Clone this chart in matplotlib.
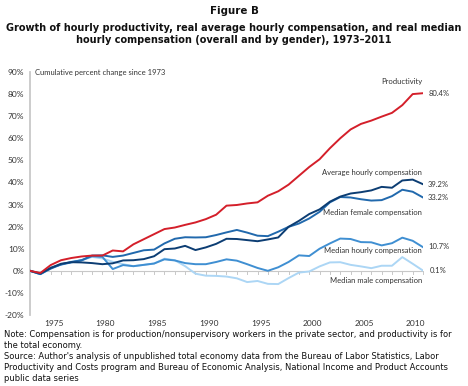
import numpy as np
import matplotlib
matplotlib.use("Agg")
import matplotlib.pyplot as plt
import matplotlib.transforms as mtrans

years = np.arange(1973, 2012)

productivity = [0, -1.0, 2.6, 4.8, 5.8, 6.5, 6.9, 6.9, 9.2, 8.8, 12.0, 14.3, 16.6, 18.9, 19.6, 20.8,
                21.9, 23.4, 25.4, 29.5, 29.8, 30.5, 31.0, 34.0, 36.0, 39.0, 43.0, 47.0, 50.5, 55.5,
                60.0, 64.0, 66.5, 68.0, 69.8, 71.5, 75.0, 80.0, 80.4]
avg_hourly = [0, -1.2, 1.3, 3.2, 3.9, 3.8, 3.5, 3.0, 3.4, 4.7, 4.8, 5.3, 6.6, 9.8, 10.1, 11.3,
              9.4, 10.6, 12.2, 14.5, 14.4, 13.9, 13.4, 14.2, 15.1, 19.9, 22.6, 25.7, 27.8, 31.3,
              33.6, 35.0, 35.6, 36.4, 38.0, 37.6, 40.9, 41.3, 39.2]
med_female = [0, -1.5, 1.0, 2.9, 4.0, 4.8, 6.9, 7.0, 6.3, 6.9, 8.1, 9.3, 9.6, 12.4, 14.5, 15.2,
              15.1, 15.2, 16.2, 17.4, 18.5, 17.3, 15.9, 15.7, 17.7, 19.9, 21.4, 23.7, 26.7, 31.0,
              33.4, 33.2, 32.4, 31.8, 32.0, 33.8, 36.7, 35.8, 33.2]
med_hourly = [0, -1.5, 1.4, 2.8, 3.8, 4.8, 6.6, 6.3, 0.8, 2.6, 2.1, 2.7, 3.3, 5.2, 4.7, 3.5,
              3.0, 3.0, 4.0, 5.2, 4.6, 3.0, 1.3, 0.0, 1.6, 4.0, 7.0, 6.7, 10.0, 12.4,
              14.6, 14.4, 13.0, 12.9, 11.5, 12.5, 15.0, 13.6, 10.7]
med_male = [0, -1.5, 1.0, 3.0, 4.1, 4.8, 6.3, 5.6, 4.1, 3.0, 2.1, 2.7, 3.3, 5.5, 4.8, 2.1,
            -1.3, -2.2, -2.3, -2.6, -3.4, -5.1, -4.6, -5.9, -6.0, -3.3, -0.8, -0.3, 2.0, 3.8,
            3.9, 2.7, 2.0, 1.2, 2.3, 2.3, 6.2, 3.2, 0.1]

series = [
    (med_male, "#acd6f5"),
    (med_hourly, "#3f8fd2"),
    (med_female, "#2169ad"),
    (avg_hourly, "#0c3d73"),
    (productivity, "#d41f2a"),
]

W, H = 468, 386
fig = plt.figure(figsize=(W / 100, H / 100), dpi=100)
fig.patch.set_facecolor("white")

# axes placed in pixel terms
x0, x1, ytop, ybot = 30, 423, 72, 315
ax = fig.add_axes([x0 / W, 1 - ybot / H, (x1 - x0) / W, (ybot - ytop) / H])
ax.set_xlim(1973, 2011)
ax.set_ylim(-20, 90)

for vals, col in series:
    ax.plot(years, vals, color=col, lw=1.4, zorder=3)

cfont = "Lato"
cs = 6.0   # tick labels
ls = 5.5   # in-chart labels
tcol = "#333333"

for s in ["top", "right", "bottom"]:
    ax.spines[s].set_visible(False)
ax.spines["left"].set_color("#c8c8c8")
ax.spines["left"].set_linewidth(1.3)

ax.set_yticks(np.arange(-20, 91, 10))
ax.set_yticklabels([f"{v}%" for v in range(-20, 91, 10)], fontfamily=cfont, fontsize=cs, color=tcol)
ax.tick_params(axis="y", length=0, pad=4)
ax.set_xticks([])

# zero axis with year ticks
ax.axhline(0, color="#c8c8c8", lw=0.8, zorder=1)
for yr in years:
    ax.plot([yr, yr], [0, -1.6], color="#c8c8c8", lw=0.7, zorder=1, clip_on=False)

tr = mtrans.blended_transform_factory(ax.transData, ax.transAxes)
for yr in range(1975, 2011, 5):
    ax.text(yr + 0.3, -0.035, str(yr), transform=tr, ha="center", va="center",
            fontfamily=cfont, fontsize=cs, color=tcol)

ax.text(1973.5, 90, "Cumulative percent change since 1973", ha="left", va="center",
        fontfamily=cfont, fontsize=ls, color=tcol)

# series labels
labels = [
    (2010.9, 85.5, "Productivity", "right"),
    (2011.5, 80.4, "80.4%", "left"),
    (2010.9, 44.5, "Average hourly compensation", "right"),
    (2011.5, 39.2, "39.2%", "left"),
    (2011.5, 33.2, "33.2%", "left"),
    (2010.9, 26.5, "Median female compensation", "right"),
    (2010.9, 9.0, "Median hourly compensation", "right"),
    (2011.5, 11.0, "10.7%", "left"),
    (2010.9, -4.5, "Median male compensation", "right"),
    (2011.7, 0.1, "0.1%", "left"),
]
for lx, ly, txt, ha in labels:
    ax.text(lx, ly, txt, ha=ha, va="center", fontfamily=cfont, fontsize=ls, color=tcol)

# titles
fig.text(0.5, 1 - 11 / H, "Figure B", ha="center", va="center", fontweight="bold", fontsize=7.4, color="#111")
fig.text(0.5, 1 - 34 / H,
         "Growth of hourly productivity, real average hourly compensation, and real median\n"
         "hourly compensation (overall and by gender), 1973\u20132011",
         ha="center", va="center", fontweight="bold", fontsize=7.0, color="#111", linespacing=1.33)

note = ("Note: Compensation is for production/nonsupervisory workers in the private sector, and productivity is for\n"
        "the total economy.\n"
        "Source: Author's analysis of unpublished total economy data from the Bureau of Labor Statistics, Labor\n"
        "Productivity and Costs program and Bureau of Economic Analysis, National Income and Product Accounts\n"
        "public data series")
fig.text(4 / W, 1 - 330 / H, note, ha="left", va="top", fontsize=6.05, color="#111", linespacing=1.27)

fig.savefig("out.png", dpi=100, facecolor="white")
